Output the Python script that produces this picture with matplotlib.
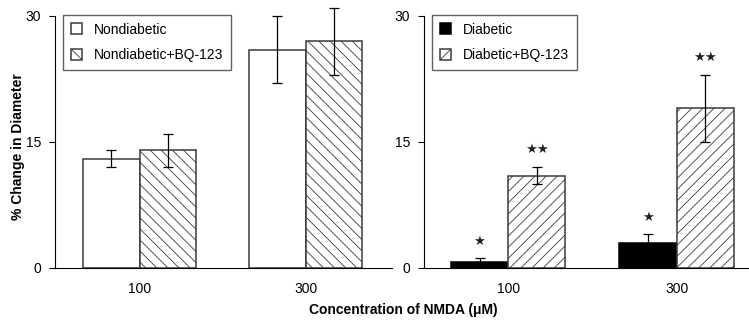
import numpy as np
import matplotlib
matplotlib.use("Agg")
import matplotlib.pyplot as plt

plt.rcParams['font.family'] = ['Liberation Sans', 'DejaVu Sans']
plt.rcParams['hatch.linewidth'] = 0.6

# ===== DATA =====
concentrations = ["100", "300"]

nondiabetic = [13, 26]
nondiabetic_err = [1, 4]
nondiabetic_bq = [14, 27]
nondiabetic_bq_err = [2, 4]

diabetic = [0.7, 3]
diabetic_err = [0.5, 1]
diabetic_bq = [11, 19]
diabetic_bq_err = [1, 4]

diabetic_marks = ["\u2605", "\u2605"]
diabetic_bq_marks = ["\u2605\u2605", "\u2605\u2605"]
# ================

W = 0.34
x = np.arange(len(concentrations))

fig = plt.figure(figsize=(7.49, 3.25), dpi=100)
axL = fig.add_axes([0.0734, 0.1754, 0.45, 0.7754])
axR = fig.add_axes([0.566, 0.1754, 0.434, 0.7754])

err_kw = dict(ecolor="black", elinewidth=0.9, capsize=3.3, capthick=0.9)
edge = "#3a3a3a"

def unclip(container):
    data_line, caps, cols = container.errorbar.lines
    for c in caps:
        c.set_clip_on(False)
    for c in cols:
        c.set_clip_on(False)

def style(ax, xlim):
    ax.set_xlim(*xlim)
    ax.set_ylim(0, 30)
    ax.set_yticks([0, 15, 30])
    ax.set_xticks(x)
    ax.set_xticklabels(concentrations)
    ax.tick_params(axis="x", length=0, pad=10, labelsize=10)
    ax.tick_params(axis="y", length=4, width=0.8, pad=6, labelsize=10)
    for s in ["top", "right"]:
        ax.spines[s].set_visible(False)
    for s in ["left", "bottom"]:
        ax.spines[s].set_linewidth(0.8)

leg_kw = dict(loc="upper left", frameon=True, fancybox=False, edgecolor=edge,
              fontsize=10, handlelength=0.8, handleheight=0.8, borderpad=0.55,
              labelspacing=0.85, handletextpad=0.9, borderaxespad=0)

# left panel
b1 = axL.bar(x - W / 2, nondiabetic, W, yerr=nondiabetic_err, color="white",
             edgecolor=edge, linewidth=1.1, error_kw=err_kw, label="Nondiabetic")
b2 = axL.bar(x + W / 2, nondiabetic_bq, W, yerr=nondiabetic_bq_err, color="white",
             edgecolor=edge, linewidth=1.1, hatch="\\\\\\", error_kw=err_kw,
             label="Nondiabetic+BQ-123")
style(axL, (-0.51, 1.52))
axL.legend(bbox_to_anchor=(0.024, 1.004), **leg_kw)

# right panel
b3 = axR.bar(x - W / 2, diabetic, W, yerr=diabetic_err, color="black",
             edgecolor="black", linewidth=1.1, error_kw=err_kw, label="Diabetic")
b4 = axR.bar(x + W / 2, diabetic_bq, W, yerr=diabetic_bq_err, color="white",
             edgecolor=edge, linewidth=1.1, hatch="///", error_kw=err_kw,
             label="Diabetic+BQ-123")
style(axR, (-0.5, 1.43))
axR.legend(bbox_to_anchor=(0.025, 1.004), **leg_kw)

for b in (b1, b2, b3, b4):
    unclip(b)

for i in range(len(x)):
    axR.text(x[i] - W / 2, diabetic[i] + diabetic_err[i] + 2.0, diabetic_marks[i],
             ha="center", va="center", fontsize=9.5, family="DejaVu Sans", color="#222222")
    axR.text(x[i] + W / 2, diabetic_bq[i] + diabetic_bq_err[i] + 2.1, diabetic_bq_marks[i],
             ha="center", va="center", fontsize=9.5, family="DejaVu Sans", color="#222222")

fig.text(18 / 749, 0.55, "% Change in Diameter", rotation=90, ha="center", va="center",
         fontweight="bold", fontsize=10)
fig.text(403 / 749, 0.046, "Concentration of NMDA (\u03bcM)", ha="center", va="center",
         fontweight="bold", fontsize=10)

fig.savefig("out.png", dpi=100)
